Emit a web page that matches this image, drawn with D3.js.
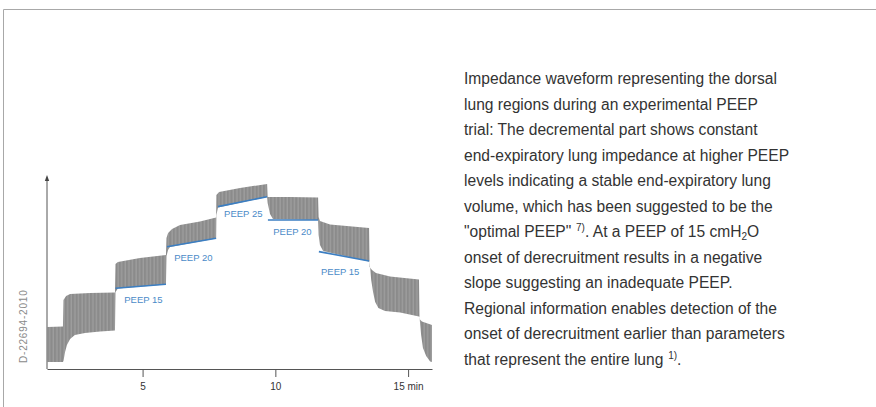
<!DOCTYPE html>
<html>
<head>
<meta charset="utf-8">
<script src="https://cdn.jsdelivr.net/npm/d3@7"></script>
<style>
  body { margin: 0; background: #fff; }
  svg { display: block; font-family: "Liberation Sans", Arial, Helvetica, sans-serif; }
</style>
</head>
<body>
<div class="chart"></div>
<script>
/*** DATA (time in min, impedance in arbitrary units) ***/
// upper envelope of the breaths (end-inspiration)
const topTime = [1.42, 2.00, 2.02, 2.12, 2.27, 3.02, 3.96, 3.98, 4.07, 4.90, 5.88,
  5.90, 5.96, 6.11, 6.41, 7.16, 7.77, 7.78, 7.88, 8.67, 9.69, 9.71, 10.55, 11.61,
  11.63, 11.68, 12.06, 13.53, 13.55, 13.64, 13.79, 14.32, 15.41, 15.43, 15.52, 15.90];
const topValue = [21.6, 21.9, 35.6, 37.6, 38.7, 39.2, 39.4, 54.1, 55.2, 57.2, 58.8,
  67.5, 70.1, 72.2, 74.2, 76.0, 78.1, 89.7, 91.2, 93.3, 95.4, 88.7, 88.7, 88.4,
  78.4, 76.3, 74.5, 72.7, 52.6, 51.0, 49.5, 47.7, 46.1, 25.8, 24.5, 22.7];

// lower envelope (end-expiration)
const bottomTime = [1.42, 2.00, 2.02, 2.08, 2.15, 2.27, 2.45, 2.83, 3.40, 3.96,
  3.98, 4.07, 5.88, 5.90, 5.96, 6.03, 7.77, 7.78, 7.84, 9.69, 9.71, 9.80, 9.91, 11.61,
  11.63, 11.68, 11.80, 13.53, 13.55, 13.61, 13.68, 13.76, 13.88, 14.13, 14.70, 15.41,
  15.43, 15.49, 15.56, 15.68, 15.83, 15.90];
const bottomValue = [3.6, 3.6, 4.1, 8.8, 12.4, 15.5, 17.5, 18.6, 19.3, 19.8,
  39.7, 41.5, 43.6, 58.2, 61.3, 62.9, 67.3, 79.4, 83.2, 88.7, 85.6, 79.9, 77.3, 76.8,
  69.1, 63.9, 60.8, 55.4, 55.2, 45.9, 39.7, 34.5, 31.4, 29.9, 29.1, 27.1,
  26.8, 17.5, 10.8, 6.7, 3.9, 3.6];

// end-expiratory trend lines per PEEP step
const peepLabels = ['PEEP 15', 'PEEP 20', 'PEEP 25', 'PEEP 20', 'PEEP 15'];
const peepStart = [3.98, 5.92, 7.84, 9.72, 11.64];
const peepEnd = [5.88, 7.77, 9.69, 11.61, 13.53];
const peepStartValue = [41.6, 63.0, 83.7, 76.8, 60.5];
const peepEndValue = [43.7, 67.4, 88.8, 76.8, 55.7];
// where each label sits (time, value of its baseline)
const peepLabelTime = [4.31, 6.19, 8.07, 9.92, 11.72];
const peepLabelValue = [34.0, 55.7, 78.4, 69.1, 48.7];

const xTicks = [5, 10, 15];

const noteLines = [
  [['Impedance waveform representing the dorsal']],
  [['lung regions during an experimental PEEP']],
  [['trial: The decremental part shows constant']],
  [['end-expiratory lung impedance at higher PEEP']],
  [['levels indicating a stable end-expiratory lung']],
  [['volume, which has been suggested to be the']],
  [['"optimal PEEP"'], ['\u2009 7)', 'sup'], ['. At a PEEP of 15 cmH'], ['2', 'sub'], ['O']],
  [['onset of derecruitment results in a negative']],
  [['slope suggesting an inadequate PEEP.']],
  [['Regional information enables detection of the']],
  [['onset of derecruitment earlier than parameters']],
  [['that represent the entire lung'], ['\u2009 1)', 'sup'], ['.']]
];

/*** DRAW ***/
const width = 876, height = 407;

const svg = d3.select('.chart')
  .append('svg')
  .attr('width', width)
  .attr('height', height);

// page frame (top and left rule)
svg.append('path')
  .attr('d', 'M3.5,407 V9.5 H876')
  .attr('fill', 'none')
  .attr('stroke', '#a8a8a8')
  .attr('stroke-width', 1);

const x = d3.scaleLinear().domain([1.4, 15.9]).range([47, 432]);
const y = d3.scaleLinear().domain([0, 100]).range([369, 175]);

// stripe texture for the individual breaths
const defs = svg.append('defs');
const pat = defs.append('pattern')
  .attr('id', 'breaths')
  .attr('patternUnits', 'userSpaceOnUse')
  .attr('width', 3.6)
  .attr('height', 20);
pat.append('rect').attr('width', 3.6).attr('height', 20).attr('fill', '#8b8b8b');
pat.append('rect').attr('x', 2.3).attr('width', 1.2).attr('height', 20).attr('fill', '#a0a0a0');

const topPts = topTime.map((t, i) => [t, topValue[i]]);
const bottomPts = bottomTime.map((t, i) => [t, bottomValue[i]]).reverse();

const line = d3.line()
  .x(d => x(d[0]))
  .y(d => y(d[1]));

svg.append('path')
  .attr('class', 'waveform')
  .attr('d', line(topPts.concat(bottomPts)) + 'Z')
  .attr('fill', 'url(#breaths)');

// PEEP trend lines
svg.append('g')
  .selectAll('line')
  .data(peepLabels)
  .join('line')
  .attr('x1', (d, i) => x(peepStart[i]))
  .attr('x2', (d, i) => x(peepEnd[i]))
  .attr('y1', (d, i) => y(peepStartValue[i]))
  .attr('y2', (d, i) => y(peepEndValue[i]))
  .attr('stroke', '#3b7ec2')
  .attr('stroke-width', 1.6);

svg.append('g')
  .selectAll('text')
  .data(peepLabels)
  .join('text')
  .attr('x', (d, i) => x(peepLabelTime[i]))
  .attr('y', (d, i) => y(peepLabelValue[i]))
  .attr('fill', '#4b8bc8')
  .style('font-size', '9.5px')
  .text(d => d);

// axes
const xAxis = svg.append('g')
  .attr('transform', `translate(0, ${y(0)})`)
  .call(d3.axisBottom(x)
    .tickValues(xTicks)
    .tickSize(8)
    .tickSizeOuter(0)
    .tickPadding(6)
    .tickFormat(d => d === 15 ? '15 min' : d));

xAxis.select('.domain').attr('stroke', '#555');
xAxis.selectAll('.tick line').attr('stroke', '#555');
xAxis.selectAll('.tick text')
  .attr('fill', '#333')
  .style('font-size', '10px')
  .style('font-family', '"Liberation Sans", Arial, sans-serif');

svg.append('line')
  .attr('x1', x(1.4)).attr('x2', x(1.4))
  .attr('y1', y(0)).attr('y2', y(100) + 4)
  .attr('stroke', '#555');

svg.append('path')
  .attr('d', `M${x(1.4)},${y(100)} l-2.2,6 h4.4 Z`)
  .attr('fill', '#444');

// drawing number
svg.append('text')
  .attr('transform', 'translate(27, 363) rotate(-90)')
  .attr('fill', '#8a8a8a')
  .style('font-size', '10px')
  .style('letter-spacing', '0.8px')
  .text('D-22694-2010');

// description
const shifts = { sup: -6, sub: 3 };
noteLines.forEach((segs, i) => {
  const t = svg.append('text')
    .attr('x', 464)
    .attr('y', 84 + i * 25.5)
    .attr('fill', '#333')
    .style('font-size', '15.6px');
  let cur = 0;
  segs.forEach(([str, kind]) => {
    const shift = kind ? shifts[kind] : 0;
    t.append('tspan')
      .attr('dy', shift - cur)
      .style('font-size', kind ? '10px' : null)
      .text(str);
    cur = shift;
  });
});
</script>
</body>
</html>
